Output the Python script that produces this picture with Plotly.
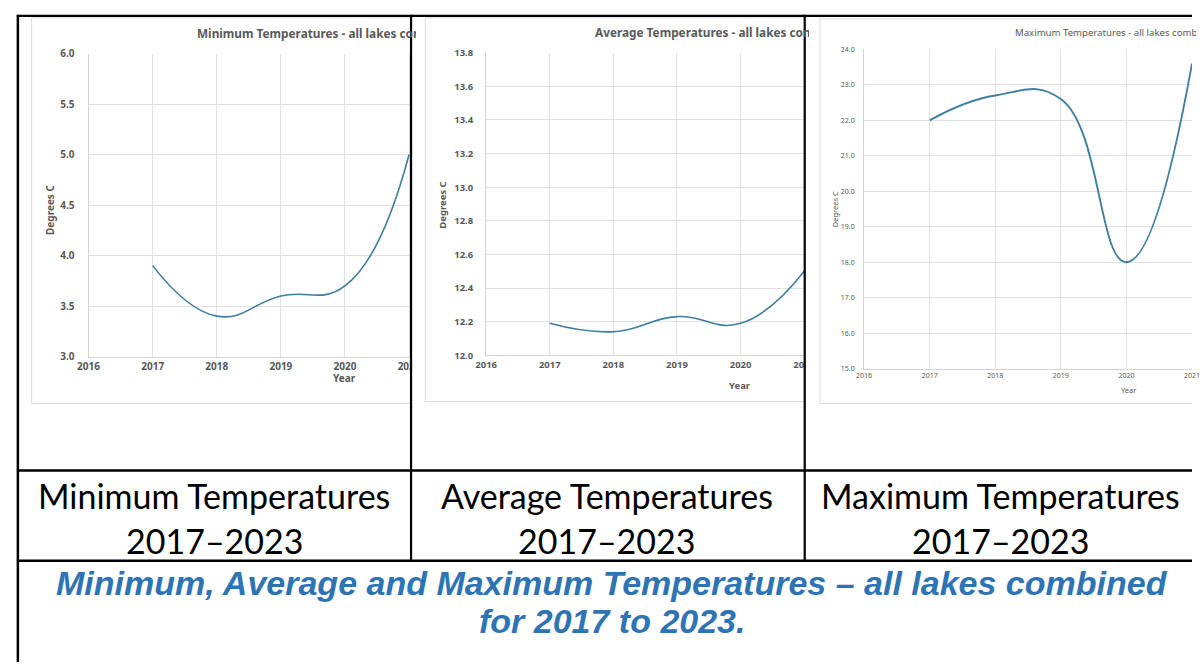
import plotly.graph_objects as go

# ---------------- data ----------------
years = [2017, 2018, 2019, 2020, 2021]
min_temps = [3.9, 3.4, 3.6, 3.7, 5.0]
avg_temps = [12.19, 12.14, 12.23, 12.19, 12.5]
max_temps = [22.0, 22.7, 22.6, 18.0, 23.6]

chart_titles = [
    "Minimum Temperatures - all lakes combined",
    "Average Temperatures - all lakes combined",
    "Maximum Temperatures - all lakes combined",
]
caption_line1 = ["Minimum Temperatures", "Average Temperatures", "Maximum Temperatures"]
caption_line2 = ["2017–2023", "2017–2023", "2017–2023"]
figure_caption = ["Minimum, Average and Maximum Temperatures – all lakes combined", "for 2017 to 2023."]

W, H = 1203, 669
def X(px):
    return px / W
def Y(py):
    return 1 - py / H

LINE = "#3e7f9f"
GRID = "#e2e2e2"
AXL = "#d4d4d4"
TXT = "#595959"

fig = go.Figure()

series = [min_temps, avg_temps, max_temps]
for i, vals in enumerate(series):
    sfx = "" if i == 0 else str(i + 1)
    fig.add_trace(go.Scatter(
        x=years, y=vals, mode="lines",
        line=dict(shape="spline", smoothing=1.3, color=LINE, width=1.6 if i < 2 else 1.9),
        xaxis="x" + sfx, yaxis="y" + sfx, hoverinfo="skip", showlegend=False,
    ))

def xax(dom, rng, fsize, bold, anchor):
    fam = "Noto Sans"
    return dict(
        domain=[X(dom[0]), X(dom[1])], range=rng, anchor=anchor,
        tick0=2016, dtick=1, showgrid=True, gridcolor=GRID, gridwidth=1,
        showline=True, linecolor=AXL, linewidth=1, zeroline=False,
        ticks="", tickfont=dict(family=fam, size=fsize, color=TXT, weight="bold" if bold else "normal"),
        fixedrange=True,
    )

def yax(dom, rng, dt, fsize, bold, anchor, standoff):
    fam = "Noto Sans"
    return dict(
        domain=[Y(dom[1]), Y(dom[0])], range=rng, anchor=anchor,
        tick0=rng[0], dtick=dt, tickformat=".1f", showgrid=True, gridcolor=GRID, gridwidth=1,
        showline=True, linecolor=AXL, linewidth=1, zeroline=False,
        ticks="", ticklabelstandoff=standoff,
        tickfont=dict(family=fam, size=fsize, color=TXT, weight="bold" if bold else "normal"),
        fixedrange=True,
    )

layout = dict(
    width=W, height=H, margin=dict(l=0, r=0, t=0, b=0),
    paper_bgcolor="white", plot_bgcolor="white", hovermode=False, showlegend=False,
    xaxis=xax((79, 407), [2016, 2016 + (407 - 79) / 65.3], 10, True, "y"),
    yaxis=yax((47.5, 357), [3.0, 6.0], 0.5, 10, True, "x", 11),
    xaxis2=xax((484, 808), [2016, 2021.0], 9.5, True, "y2"),
    yaxis2=yax((46.7, 355.7), [12.0, 13.8], 0.2, 9.5, True, "x2", 10),
    xaxis3=xax((869, 1203), [2016, 2021.0], 7, False, "y3"),
    yaxis3=yax((43.3, 369.3), [15.0, 24.0], 1.0, 7, False, "x3", 7),
)
fig.update_layout(**layout)

shapes = []
# light grey chart frames (right edge cropped)
for (l, t, b, r) in [(21, 11, 405, 407), (422, 11, 403, 808), (824, 12, 405, 1203)]:
    shapes.append(dict(type="path", xref="paper", yref="paper",
                       path=f"M {X(r)},{Y(t)} L {X(l)},{Y(t)} L {X(l)},{Y(b)} L {X(r)},{Y(b)}",
                       line=dict(color="#dcdcdc", width=1), layer="above"))
# white covers hiding cropped tick labels
for (l, r) in [(408.5, 420.5), (809.5, 823)]:
    shapes.append(dict(type="rect", xref="paper", yref="paper", x0=X(l), x1=X(r), y0=Y(470), y1=Y(10),
                       fillcolor="white", line=dict(width=0), layer="above"))
# table borders
def hline(y, x0, x1, w=2.2):
    shapes.append(dict(type="line", xref="paper", yref="paper", x0=X(x0), x1=X(x1), y0=Y(y), y1=Y(y),
                       line=dict(color="black", width=w), layer="above"))
def vline(x, y0, y1, w=2.2):
    shapes.append(dict(type="line", xref="paper", yref="paper", x0=X(x), x1=X(x), y0=Y(y0), y1=Y(y1),
                       line=dict(color="black", width=w), layer="above"))
hline(9, 6, 1203)
hline(473.5, 6, 1203, 2.5)
hline(565.5, 6, 1203, 2.5)
vline(7, 8, 669, 2.5)
vline(407.5, 8, 566)
vline(808.5, 8, 566)
fig.update_layout(shapes=shapes)

ann = []
# chart titles (cropped at the cell edge, as in the screenshot)
title_specs = [(188, 27, 219, 11.8, True), (594, 26, 214, 11.8, True), (1022, 26, 181, 9.6, False)]
for txt, (x0, yc, w, fs, bold) in zip(chart_titles, title_specs):
    ann.append(dict(text=txt, xref="paper", yref="paper", x=X(x0), y=Y(yc), xanchor="left", yanchor="middle",
                    width=w, align="left", showarrow=False, borderpad=0,
                    font=dict(family="Noto Sans", size=fs, color=TXT, weight="bold" if bold else "normal")))
# axis titles
ytitle_specs = [(39, 207, 10, True), (440, 202, 9.5, True), (839, 207, 7.5, False)]
for (xc, yc, fs, bold) in ytitle_specs:
    ann.append(dict(text="Degrees C", xref="paper", yref="paper", x=X(xc), y=Y(yc), xanchor="center",
                    yanchor="middle", textangle=-90, showarrow=False,
                    font=dict(family="Noto Sans", size=fs, color=TXT, weight="bold" if bold else "normal")))
xtitle_specs = [(340, 379, 10, True), (743, 387, 9.5, True), (1138, 391, 7.5, False)]
for (xc, yc, fs, bold) in xtitle_specs:
    ann.append(dict(text="Year", xref="paper", yref="paper", x=X(xc), y=Y(yc), xanchor="center",
                    yanchor="middle", showarrow=False,
                    font=dict(family="Noto Sans", size=fs, color=TXT, weight="bold" if bold else "normal")))
# table cell captions
for l1, l2, xc in zip(caption_line1, caption_line2, [207, 607, 1008]):
    for txt, yc in [(l1, 499), (l2, 545)]:
        ann.append(dict(text=txt, xref="paper", yref="paper", x=X(xc), y=Y(yc), xanchor="center",
                        yanchor="middle", showarrow=False, align="center",
                        font=dict(family="Lato", size=34, color="black")))
# figure caption
for txt, yc in zip(figure_caption, [588, 627]):
    ann.append(dict(text=txt, xref="paper", yref="paper", x=X(612), y=Y(yc), xanchor="center",
                    yanchor="middle", showarrow=False, align="center",
                    font=dict(family="Liberation Sans", size=34, color="#2e74b5", weight="bold", style="italic")))
fig.update_layout(annotations=ann)

post = ("var de=document.documentElement;de.style.margin='0';de.style.padding='0';de.style.overflow='hidden';"
        "document.body.style.margin='0';document.body.style.padding='0';document.body.style.overflow='hidden';"
        "var d=document.getElementById('{plot_id}');d.style.position='fixed';d.style.left='0px';d.style.top='0px';")
fig.write_html("out.html", config={"displayModeBar": False}, post_script=post)
